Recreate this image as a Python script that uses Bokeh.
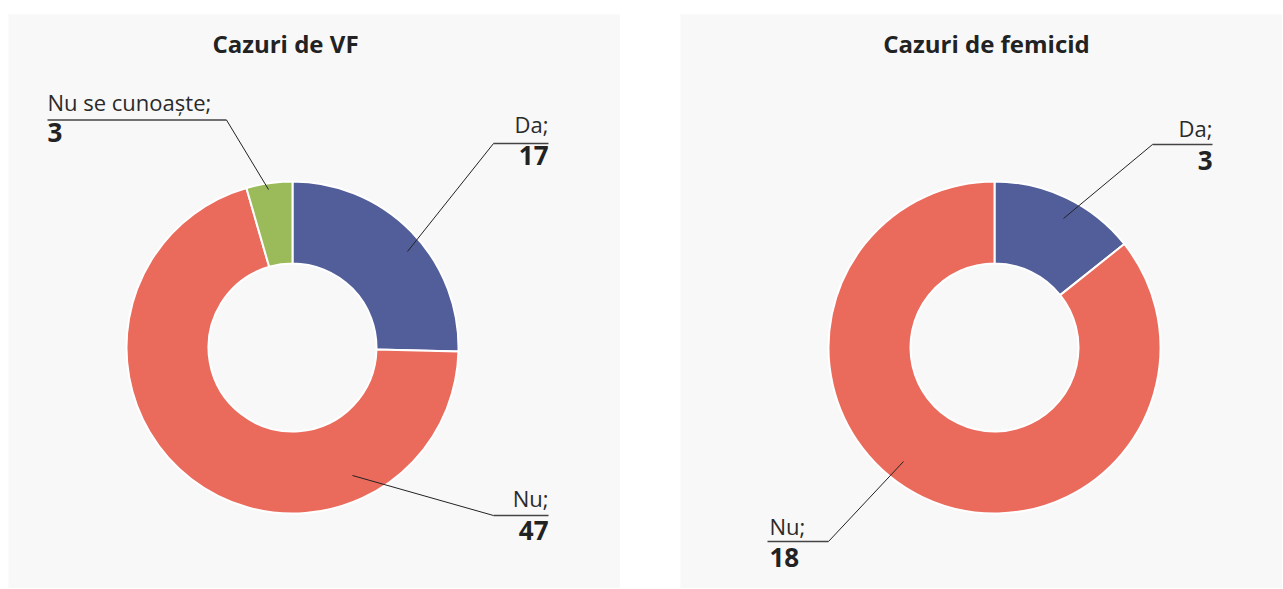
import math
from bokeh.plotting import figure
from bokeh.models import Range1d, ColumnDataSource
from bokeh.layouts import row
from bokeh.embed import file_html
from bokeh.resources import INLINE
from bokeh.core.properties import value

# ---------------- data ----------------
vf_title = "Cazuri de VF"
vf_categories = ["Da", "Nu", "Nu se cunoaște"]
vf_values = [17, 47, 3]

fem_title = "Cazuri de femicid"
fem_categories = ["Da", "Nu"]
fem_values = [3, 18]

# ---------------- style ----------------
COLORS = {"Da": "#525E9A", "Nu": "#EA6A5C", "Nu se cunoaște": "#9BBA59"}
BG = "#F8F8F8"
TXT = "#222222"
FONT = "Open Sans"
LABEL_FS = 22
VALUE_FS = 26
TITLE_FS = 24
BASE_FIX = 0.42   # empirical shift of the alphabetic baseline (fraction of font size)
CY = 347          # page y of donut centres
TOP = 14          # page y of panel top
H = 574           # panel height
R_OUT, R_IN = 166, 84

# label layout (page pixel coordinates)
VF_LAYOUT = {
    "Da": dict(align="right", x=548, yl=133, yv=166, uy=143, ux0=493, ux1=548, lx=407, ly=251, join=493),
    "Nu": dict(align="right", x=548, yl=507, yv=541, uy=515, ux0=493, ux1=548, lx=352, ly=475, join=493),
    "Nu se cunoaște": dict(align="left", x=47, yl=111, yv=143, uy=119.5, ux0=47, ux1=226, lx=268, ly=189, join=226),
}
FEM_LAYOUT = {
    "Da": dict(align="right", x=1212, yl=137, yv=171, uy=144, ux0=1152, ux1=1212, lx=1063, ly=218, join=1152),
    "Nu": dict(align="left", x=769, yl=535, yv=568, uy=541, ux0=767, ux1=828, lx=903, ly=461, join=828),
}


def make_panel(title, cats, vals, left_page, width, cx_page, title_x, layout, margin):
    cx = cx_page - left_page
    p = figure(width=width, height=H,
               x_range=Range1d(-cx, width - cx),
               y_range=Range1d(CY - TOP - H, CY - TOP),
               output_backend="svg", toolbar_location=None,
               x_axis_location=None, y_axis_location=None,
               min_border=0, background_fill_color=BG, border_fill_color=BG,
               outline_line_color=None)
    p.grid.visible = False
    p.margin = margin

    total = sum(vals)
    cum = 0
    starts, ends = [], []
    for v in vals:
        starts.append(math.pi / 2 - 2 * math.pi * cum / total)
        cum += v
        ends.append(math.pi / 2 - 2 * math.pi * cum / total)
    src = ColumnDataSource(dict(cat=cats, val=vals, start=starts, end=ends,
                                color=[COLORS[c] for c in cats]))
    p.annular_wedge(x=0, y=0, inner_radius=R_IN, outer_radius=R_OUT,
                    start_angle="start", end_angle="end", direction="clock",
                    fill_color="color", line_color="white", line_width=2, source=src)

    def X(px):
        return px - cx_page

    def Y(py):
        return CY - py

    def TY(py, fs):
        return CY - py + BASE_FIX * fs

    # title
    p.text(x=[X(title_x)], y=[TY(53, TITLE_FS)], text=[title], text_font=value(FONT),
           text_font_size=f"{TITLE_FS}px", text_font_style="bold", text_color=TXT,
           text_align="center", text_baseline="alphabetic")

    for c, v in zip(cats, vals):
        L = layout[c]
        p.text(x=[X(L["x"])], y=[TY(L["yl"], LABEL_FS)], text=[c + ";"], text_font=value(FONT),
               text_font_size=f"{LABEL_FS}px", text_color="#2a2a2a", text_align=L["align"],
               text_baseline="alphabetic")
        p.text(x=[X(L["x"])], y=[TY(L["yv"], VALUE_FS)], text=[str(v)], text_font=value(FONT),
               text_font_size=f"{VALUE_FS}px", text_font_style="bold", text_color=TXT,
               text_align=L["align"], text_baseline="alphabetic")
        p.line(x=[X(L["ux0"]), X(L["ux1"])], y=[Y(L["uy"]), Y(L["uy"])],
               line_color="#444444", line_width=1.5)
        p.line(x=[X(L["join"]), X(L["lx"])], y=[Y(L["uy"]), Y(L["ly"])],
               line_color="#222222", line_width=1)
    return p


p1 = make_panel(vf_title, vf_categories, vf_values, left_page=8, width=612,
                cx_page=292, title_x=285, layout=VF_LAYOUT, margin=(TOP, 0, 0, 8))
p2 = make_panel(fem_title, fem_categories, fem_values, left_page=680, width=602,
                cx_page=994, title_x=986, layout=FEM_LAYOUT, margin=(TOP, 0, 0, 60))

layout = row(p1, p2)
open("out.html", "w").write(file_html(layout, INLINE))
